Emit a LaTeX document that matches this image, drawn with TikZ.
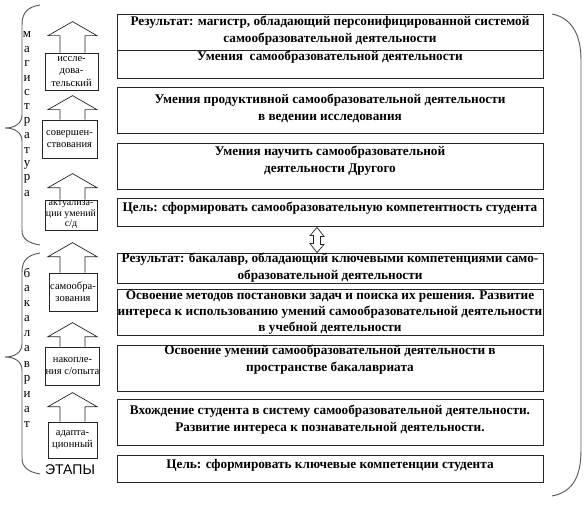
\documentclass[tikz,border=0pt]{standalone}
\usepackage{fontspec}
\setmainfont{Liberation Serif}
\newfontfamily\etapfont{Liberation Sans}
\usetikzlibrary{calc}

\begin{document}
\begin{tikzpicture}[
  x=0.03cm, y=-0.03cm,
  mbox/.style={draw=black!85, line width=0.7pt, minimum width=12.78cm, inner sep=0pt},
  mtext/.style={font=\fontsize{11.3}{14}\selectfont\bfseries, align=center, inner sep=0pt},
  sbox/.style={draw=black!85, line width=0.6pt, align=center, inner sep=0pt,
               font=\fontsize{9}{10.5}\selectfont},
  uparr/.style={draw=black!85, line width=0.6pt, line join=miter},
  brc/.style={draw=black!65, line width=0.8pt},
  vlet/.style={font=\fontsize{11}{11}\selectfont, inner sep=0pt}
]
\useasboundingbox (0,0) rectangle (588,506);

%--------------------------------------------------------------
% Blocchi principali (magistratura)
%--------------------------------------------------------------
\node[mbox, minimum height=1.92cm] (b1) at (330,46) {};
\coordinate (cut) at (0,50);
\draw[draw=black!85, line width=0.7pt] (b1.west |- cut) -- (b1.east |- cut);
\node[mtext] (t1) at (330,30.5)
  {Результат: магистр, обладающий персонифицированной системой\\
   самообразовательной деятельности};
\node[mtext] (t1b) at (330,57) {Умения\ \ самообразовательной деятельности};

\node[mbox, minimum height=1.38cm] (b2) at (330,110) {};
\node[mtext] (t2) at (330,108.5)
  {Умения продуктивной самообразовательной деятельности\\ в ведении исследования};

\node[mbox, minimum height=1.38cm] (b3) at (330,166) {};
\node[mtext] (t3) at (330,160.5)
  {Умения научить самообразовательной\\ деятельности Другого};

\node[mbox, minimum height=0.84cm] (b4) at (330,212) {};
\node[mtext] (t4) at (330,208)
  {Цель: сформировать самообразовательную компетентность студента};

%--------------------------------------------------------------
% Blocchi principali (bakalavriat)
%--------------------------------------------------------------
\node[mbox, minimum height=0.9cm] (b5) at (330,268) {};
\node[mtext] (t5) at (330,267.5)
  {Результат: бакалавр, обладающий ключевыми компетенциями само-\\
   образовательной деятельности};

\node[mbox, minimum height=1.38cm] (b6) at (330,312) {};
\node[mtext] (t6) at (330,312.5)
  {Освоение методов постановки задач и поиска их решения. Развитие\\
   интереса к использованию умений самообразовательной деятельности\\
   в учебной деятельности};

\node[mbox, minimum height=1.38cm] (b7) at (330,368) {};
\node[mtext] (t7) at (330,359.5)
  {Освоение умений самообразовательной деятельности в\\ пространстве бакалавриата};

\node[mbox, minimum height=1.38cm] (b8) at (330,422) {};
\node[mtext] (t8) at (330,419.5)
  {Вхождение студента в систему самообразовательной деятельности.\\
   Развитие интереса к познавательной деятельности.};

\node[mbox, minimum height=0.81cm] (b9) at (330,468.5) {};
\node[mtext] (t9) at (330,465)
  {Цель: сформировать ключевые компетенции студента};

% freccia doppia tra i due livelli
\draw[uparr] ($(b4.south)+(-13,1)$) -- ++(7,9) -- ++(-3.5,0) -- ++(0,8) -- ++(3.5,0)
  -- ($(b5.north)+(-13,0)$) -- ++(-7,-9) -- ++(3.5,0) -- ++(0,-8) -- ++(-3.5,0) -- cycle;

%--------------------------------------------------------------
% Etapy
%--------------------------------------------------------------
\node[sbox, minimum width=1.59cm, minimum height=1.11cm] (s1) at (71.5,71.5)
  {иссле-\\дова-\\тельский};
\node[sbox, minimum width=1.65cm, minimum height=1.14cm] (s2) at (69.5,139)
  {совершен-\\ствования};
\node[sbox, minimum width=1.56cm, minimum height=0.9cm,
      font=\fontsize{8.5}{9}\selectfont] (s3) at (71,215)
  {актуализа-\\ции умений\\с/д};
\node[sbox, minimum width=1.44cm, minimum height=1.14cm] (s4) at (73,292)
  {самообра-\\зования};
\node[sbox, minimum width=1.47cm, minimum height=1.14cm] (s5) at (72.5,366)
  {накопле-\\ния с/опыта};
\node[sbox, minimum width=1.47cm, minimum height=1.08cm] (s6) at (72.5,440)
  {адапта-\\ционный};

\coordinate (ax) at (72.5,0);
\foreach \s/\sh in {s1/17, s2/10, s3/12, s4/16, s5/10, s6/15}{
  \draw[uparr] ($(ax |- \s.north)+(-12.5,0)$) -- ++(0,-\sh) -- ++(-12,0)
    -- ++(24.5,-14) -- ++(24.5,14) -- ++(-12,0) -- ++(0,\sh);
}

% parentesi graffe a sinistra
\draw[brc] (40,5) .. controls (28,7) and (22,12) .. (22,25) -- (22,115)
  .. controls (22,124) and (14,128) .. (5,128)
  .. controls (14,128) and (22,132) .. (22,141) -- (22,230)
  .. controls (22,239) and (28,243) .. (40,245);
\draw[brc] (40,253) .. controls (28,255) and (22,260) .. (22,272) -- (22,344)
  .. controls (22,353) and (14,357) .. (5,357)
  .. controls (14,357) and (22,361) .. (22,370) -- (22,458)
  .. controls (22,467) and (28,472) .. (40,474);

% parentesi tonda a destra
\draw[brc] (552,14) .. controls (572,18) and (581,35) .. (581,60) -- (581,450)
  .. controls (581,478) and (572,492) .. (552,496);

% lettere verticali
\foreach \l [count=\i] in {м,а,г,и,с,т,р,а,т,у,р,а}{
  \node[vlet] (mg\i) at (27,{35+(\i-1)*14.4}) {\l};
}
\foreach \l [count=\i] in {б,а,к,а,л,а,в,р,и,а,т}{
  \node[vlet] (bk\i) at (27,{273+(\i-1)*15.2}) {\l};
}

\node[font=\etapfont\fontsize{12}{12}\selectfont, inner sep=0pt] (etapy) at (70,470) {ЭТАПЫ};

\end{tikzpicture}
\end{document}
